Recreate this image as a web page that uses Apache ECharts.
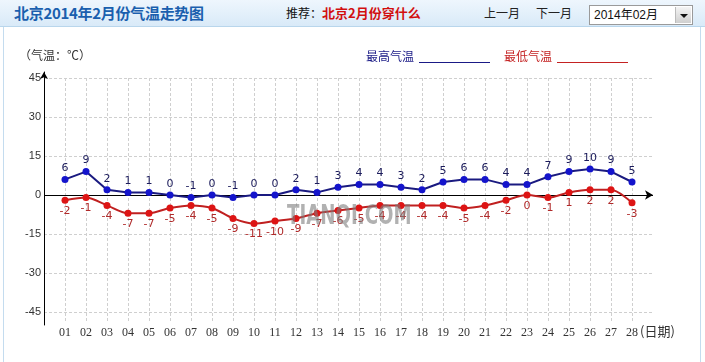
<!DOCTYPE html>
<html>
<head>
<meta charset="utf-8">
<script src="https://cdn.jsdelivr.net/npm/echarts@6/dist/echarts.min.js"></script>
<style>
  html, body { margin:0; padding:0; background:#fff; }
  #wrap { position:relative; width:705px; height:362px; overflow:hidden; font-family:"Noto Sans CJK SC", sans-serif; }
  #header { position:absolute; left:0; top:0; width:705px; height:26px;
    background:linear-gradient(#eef6fd, #d9eaf8); border-bottom:1px solid #b9d6ec; z-index:2; }
  #frame { position:absolute; left:3px; top:27px; width:696px; height:340px;
    border-left:1px solid #c4dcef; border-right:1px solid #c4dcef; z-index:0; }
  .h { position:absolute; top:0; line-height:26px; white-space:nowrap; }
  #title { left:14px; font-size:15px; font-weight:bold; color:#1a5fae; letter-spacing:-0.3px; }
  #rec { left:286px; font-size:12px; color:#111; }
  #rec b { color:#d20f0f; font-size:13px; }
  #prev { left:484px; font-size:12px; color:#222; }
  #next { left:536px; font-size:12px; color:#222; }
  #sel { position:absolute; left:589px; top:5px; width:102px; height:18px; border:1px solid #9a9a9a; background:#fff;
    font-size:12px; line-height:18px; color:#111; font-family:"Liberation Sans","Noto Sans CJK SC",sans-serif; }
  #sel span { position:absolute; left:4px; top:0; }
  #btn { position:absolute; right:1px; top:1px; width:15px; height:16px; background:linear-gradient(#f4f4f4,#cfcfcf); border-left:1px solid #bbb; }
  #btn:after { content:""; position:absolute; left:4px; top:7px; border-left:4px solid transparent; border-right:4px solid transparent; border-top:4px solid #111; }
  #chart { position:absolute; left:0; top:0; width:705px; height:362px; z-index:1; }
</style>
</head>
<body>
<div id="wrap">
  <div id="frame"></div>
  <div id="chart"></div>
  <div id="header">
    <div class="h" id="title">北京2014年2月份气温走势图</div>
    <div class="h" id="rec">推荐：<b>北京2月份穿什么</b></div>
    <div class="h" id="prev">上一月</div>
    <div class="h" id="next">下一月</div>
    <div id="sel"><span>2014年02月</span><div id="btn"></div></div>
  </div>
</div>
<script>
const days = ['01','02','03','04','05','06','07','08','09','10','11','12','13','14','15','16','17','18','19','20','21','22','23','24','25','26','27','28'];
const highTemps = [6, 9, 2, 1, 1, 0, -1, 0, -1, 0, 0, 2, 1, 3, 4, 4, 3, 2, 5, 6, 6, 4, 4, 7, 9, 10, 9, 5];
const lowTemps = [-2, -1, -4, -7, -7, -5, -4, -5, -9, -11, -10, -9, -7, -6, -5, -4, -4, -4, -4, -5, -4, -2, 0, -1, 1, 2, 2, -3];
const yMin = -45, yMax = 45, yStep = 15;
const seriesNames = ['最高气温', '最低气温'];

// category slots: an empty slot at each end so day 01 sits one step right of the y axis
const slots = [''].concat(days, ['']);
const pad = arr => [null].concat(arr, [null]);
const isDay = i => i >= 1 && i <= days.length;

const chart = echarts.init(document.getElementById('chart'), null, {renderer:'canvas'});
const L = 44, R = 52;
const option = {
  animation: false,
  title: { text: '（气温：℃）', left: 14, top: 44, textStyle: { fontSize: 12, fontWeight: 'normal', color: '#333', fontFamily: 'Noto Sans CJK SC' } },
  legend: {
    left: 361, top: 45, align: 'right', itemGap: 14, itemWidth: 71, itemHeight: 13,
    icon: 'path://M0,0 M0,12L71,12L71,13L0,13Z',
    textStyle: { fontSize: 12, fontFamily: 'Noto Sans CJK SC' },
    data: [
      { name: seriesNames[0], textStyle: { color: '#1a1a86' }, itemStyle: { color: '#1a1a86' } },
      { name: seriesNames[1], textStyle: { color: '#c42222' }, itemStyle: { color: '#c42222' } }
    ],
    selectedMode: false
  },
  grid: [
    { left: L, right: R, top: 78, bottom: 50 },
    { left: L, right: R, top: 78, bottom: 39 },
    { left: L, right: R, top: 72, bottom: 37 }
  ],
  xAxis: [
    { gridIndex: 0, type: 'category', data: slots, boundaryGap: false, show: false },
    { gridIndex: 1, type: 'category', data: slots, boundaryGap: false,
      axisLine: { show: false }, axisTick: { show: false },
      axisLabel: { interval: isDay, margin: 4, fontSize: 12, color: '#333', fontFamily: 'Liberation Serif' },
      splitLine: { show: true, interval: isDay, lineStyle: { color: '#cfcfcf', type: [3, 2], width: 1 } } },
    { gridIndex: 2, type: 'value', min: 0, max: 1, show: false }
  ],
  yAxis: [
    { gridIndex: 0, type: 'value', min: yMin, max: yMax, interval: yStep,
      axisLine: { show: false }, axisTick: { show: false },
      axisLabel: { margin: 3, fontSize: 11, color: '#333', fontFamily: 'Liberation Sans' },
      splitLine: { show: true, lineStyle: { color: '#cfcfcf', type: [3, 2], width: 1 } } },
    { gridIndex: 1, type: 'value', min: 0, max: 1, show: false },
    { gridIndex: 2, type: 'value', min: 0, max: 1,
      axisLine: { show: true, symbol: ['none', 'arrow'], symbolSize: [6, 7], lineStyle: { color: '#000', width: 1 } },
      axisTick: { show: false }, axisLabel: { show: false }, splitLine: { show: false } }
  ],
  graphic: [
    { type: 'text', left: 640, top: 325, z: 10, style: { text: '(日期)', fontSize: 13, fill: '#333', fontFamily: 'Noto Sans CJK SC' } },
    { type: 'text', x: 287, y: 204, scaleX: 0.7, z: 100, silent: true,
      style: { text: 'TIANQI.COM', fontSize: 26, fontWeight: 'bold', fill: 'rgba(125,125,125,0.6)', fontFamily: 'DejaVu Sans', verticalAlign: 'top' } }
  ],
  series: [
    { name: seriesNames[0], type: 'line', xAxisIndex: 0, yAxisIndex: 0, data: pad(highTemps),
      symbol: 'circle', symbolSize: 7, z: 3,
      itemStyle: { color: '#1414cc' }, lineStyle: { color: '#1a1a80', width: 2 },
      label: { show: true, position: 'top', distance: 2, fontSize: 11, color: '#1c1c5c', fontFamily: 'DejaVu Sans' } },
    { name: seriesNames[1], type: 'line', xAxisIndex: 0, yAxisIndex: 0, data: pad(lowTemps),
      symbol: 'circle', symbolSize: 7, z: 3, smooth: 0.3,
      itemStyle: { color: '#dd1414' }, lineStyle: { color: '#c02020', width: 2 },
      label: { show: true, position: 'bottom', distance: 2, fontSize: 11, color: '#b02a2a', fontFamily: 'DejaVu Sans' },
      markLine: { silent: true, symbol: ['none', 'arrow'], symbolSize: [7, 8], label: { show: false },
        lineStyle: { color: '#000', type: 'solid', width: 1 }, data: [{ yAxis: 0 }], z: 1 } }
  ]
};
chart.setOption(option);
</script>
</body>
</html>
